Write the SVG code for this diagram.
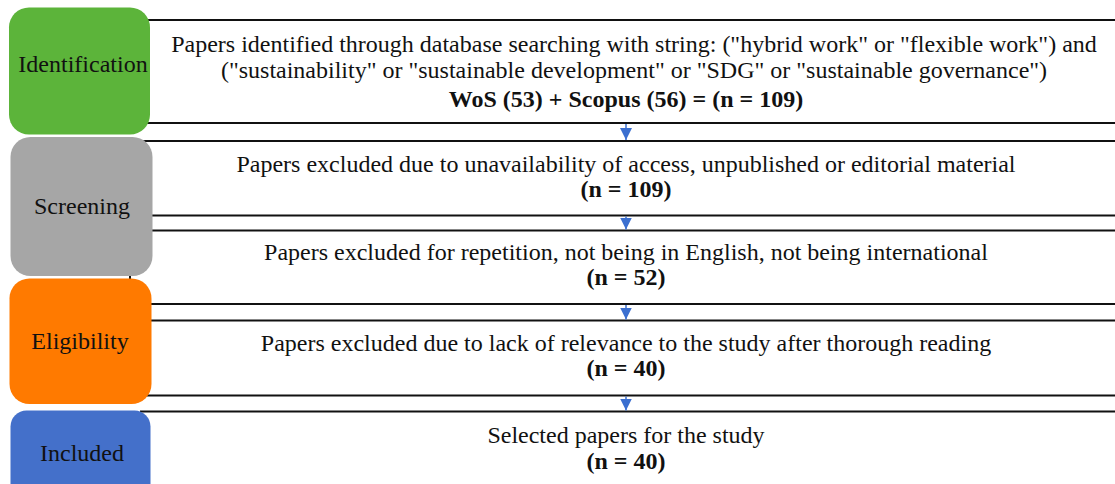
<svg xmlns="http://www.w3.org/2000/svg" width="1115" height="484" viewBox="0 0 1115 484">
<defs>
<style>
.t{font-family:"Liberation Serif","Times New Roman",serif;font-size:24px;fill:#111;text-anchor:middle}
.b{font-weight:bold}
.ln{stroke:#111;stroke-width:2}
.ar{stroke:#3B6FD0;stroke-width:1.5}
.lbl{font-family:"Liberation Serif","Times New Roman",serif;font-size:24px;fill:#111;text-anchor:middle}
</style>
<marker id="ah" viewBox="0 0 10 10" refX="10" refY="5" markerWidth="12" markerHeight="12" markerUnits="userSpaceOnUse" orient="auto">
<path d="M0,0 L10,5 L0,10 Z" fill="#3B6FD0"/>
</marker>
</defs>
<rect width="1115" height="484" fill="#fff"/>
<g id="boxes">
<g id="box1"><line class="ln" x1="140" y1="20" x2="1115" y2="20"/><line class="ln" x1="140" y1="123" x2="1115" y2="123"/>
<text class="t" x="634" y="52">Papers identified through database searching with string: ("hybrid work" or "flexible work") and</text>
<text class="t" x="634" y="78">("sustainability" or "sustainable development" or "SDG" or "sustainable governance")</text>
<text class="t b" x="626" y="107">WoS (53) + Scopus (56) = (n = 109)</text></g>
<g id="box2"><line class="ln" x1="140" y1="141" x2="1115" y2="141"/><line class="ln" x1="140" y1="215.5" x2="1115" y2="215.5"/>
<text class="t" x="626" y="172">Papers excluded due to unavailability of access, unpublished or editorial material</text>
<text class="t b" x="626" y="197">(n = 109)</text></g>
<g id="box3"><line class="ln" x1="140" y1="230.5" x2="1115" y2="230.5"/><line class="ln" x1="140" y1="304" x2="1115" y2="304"/>
<text class="t" x="626" y="260">Papers excluded for repetition, not being in English, not being international</text>
<text class="t b" x="626" y="285">(n = 52)</text></g>
<g id="box4"><line class="ln" x1="140" y1="320.5" x2="1115" y2="320.5"/><line class="ln" x1="140" y1="395.5" x2="1115" y2="395.5"/>
<text class="t" x="626" y="351">Papers excluded due to lack of relevance to the study after thorough reading</text>
<text class="t b" x="626" y="376">(n = 40)</text></g>
<g id="box5"><line class="ln" x1="140" y1="411.5" x2="1115" y2="411.5"/>
<text class="t" x="626" y="443">Selected papers for the study</text>
<text class="t b" x="626" y="469">(n = 40)</text></g>
</g>
<g id="connectors">
<line class="ar" x1="626" y1="124" x2="626" y2="140" marker-end="url(#ah)"/>
<line class="ar" x1="626" y1="216.5" x2="626" y2="229.5" marker-end="url(#ah)"/>
<line class="ar" x1="626" y1="305" x2="626" y2="319.5" marker-end="url(#ah)"/>
<line class="ar" x1="626" y1="396.5" x2="626" y2="410.5" marker-end="url(#ah)"/>
<line x1="130" y1="274" x2="130" y2="280" stroke="#111" stroke-width="2"/>
</g>
<g id="stages">
<g id="identification"><rect x="9" y="7.5" width="141" height="127" rx="20" fill="#5CB43A"/><text class="lbl" x="83" y="72">Identification</text></g>
<g id="screening"><rect x="10.5" y="137" width="142" height="139" rx="20" fill="#A6A6A6"/><text class="lbl" x="82" y="214">Screening</text></g>
<g id="eligibility"><rect x="9.5" y="278.5" width="142" height="125.5" rx="20" fill="#FF7A00"/><text class="lbl" x="80" y="349">Eligibility</text></g>
<g id="included"><rect x="10.5" y="410.5" width="140" height="100" rx="16" fill="#4470CA"/><text class="lbl" x="82" y="461">Included</text></g>
</g>
</svg>
